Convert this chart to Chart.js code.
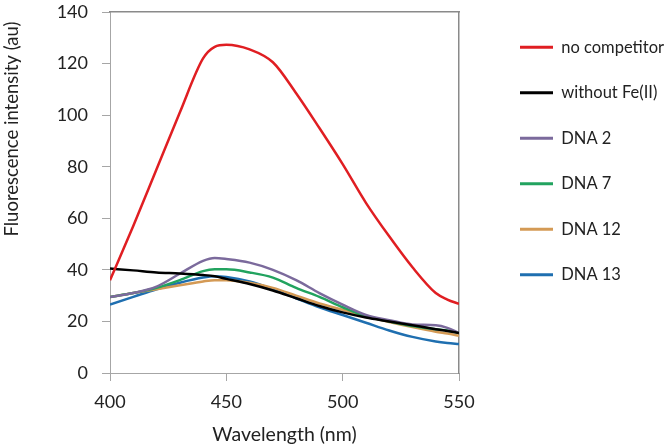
<!DOCTYPE html>
<html>
<head>
<meta charset="utf-8">
<script src="https://cdn.jsdelivr.net/npm/chart.js@4/dist/chart.umd.min.js"></script>
<style>
    html, body { margin: 0; padding: 0; background: #fff; }
    #wrap { width: 666px; height: 446px; }
</style>
</head>
<body>
<div id="wrap"><canvas id="spectra" width="666" height="446"></canvas></div>
<script>
// ==============================
//  DATA
// ==============================
const wavelengths = [400, 410, 420, 430, 440, 445, 450, 460, 470, 480, 490, 500, 510, 520, 530, 540, 545, 550];

const noCompetitor = [36, 57, 79, 101, 122, 126.5, 127.3, 125.5, 120.5, 108.5, 95, 81, 66, 53, 41, 31, 28.5, 26.8];
const withoutFe    = [40.5, 39.8, 39, 38.6, 38, 37.5, 36.5, 34.5, 32, 29, 26, 23.5, 21.5, 20, 18.5, 17, 16.3, 15.5];
const dna2         = [29.5, 31, 33.5, 38.5, 43.5, 44.6, 44.2, 42.8, 40, 36, 31, 26.5, 22.5, 20.5, 18.8, 18.5, 17.5, 15.5];
const dna7         = [29.5, 31, 33, 36, 39.5, 40.2, 40.2, 39, 37, 33, 29.5, 25.5, 22, 20, 18.2, 17, 16.5, 15.5];
const dna12        = [29.5, 31, 32.5, 34, 35.5, 36, 36, 35, 33, 30, 27, 24.5, 22, 19.8, 17.8, 16, 15.3, 14.5];
const dna13        = [26.5, 29.5, 32.5, 35, 37, 37.5, 37.2, 35.5, 32.5, 29, 25.5, 22.5, 19.5, 16.5, 14, 12.2, 11.6, 11.2];

const seriesNames  = ["no competitor", "without Fe(II)", "DNA 2", "DNA 7", "DNA 12", "DNA 13"];
const seriesValues = [noCompetitor, withoutFe, dna2, dna7, dna12, dna13];
const seriesColors = ["#e01e22", "#000000", "#7b6a9c", "#22a35f", "#d49a55", "#1f6fb0"];

const xTicks = { min: 400, max: 550, step: 50 };
const yTicks = { min: 0, max: 140, step: 20 };

const FONT = "Lato, 'Open Sans', 'DejaVu Sans', sans-serif";
const AXIS_GREY = "#a6a6a6";
const BOX_GREY = "#8a8a8a";

// ==============================
//  BUILD DATASETS
// ==============================
const datasets = seriesNames.map((name, i) => ({
    label: name,
    data: wavelengths.map((w, j) => ({ x: w, y: seriesValues[i][j] })),
    borderColor: seriesColors[i],
    backgroundColor: seriesColors[i],
    borderWidth: 2.5,
    pointRadius: 0,
    cubicInterpolationMode: "monotone",
    fill: false
}));

// legend gets a fixed width so the plot box lands where it should
const legendWidth = {
    id: "legendWidth",
    beforeInit(chart) {
        const fit = chart.legend.fit;
        chart.legend.fit = function () {
            fit.call(this);
            this.width = 175;
        };
    }
};

new Chart(document.getElementById("spectra"), {
    type: "line",
    data: { datasets: datasets },
    plugins: [legendWidth],
    options: {
        responsive: false,
        animation: false,
        layout: { padding: { top: 10, left: 0, right: 0, bottom: 0 } },
        plugins: {
            tooltip: { enabled: false },
            legend: {
                position: "right",
                align: "start",
                labels: {
                    boxWidth: 33,
                    boxHeight: 3,
                    padding: 29,
                    color: "#222",
                    font: { family: FONT, size: 16.5 },
                    generateLabels: chart =>
                        Chart.defaults.plugins.legend.labels.generateLabels(chart)
                            .map(item => ({ ...item, lineWidth: 0 }))
                }
            }
        },
        scales: {
            x: {
                type: "linear",
                position: "bottom",
                min: xTicks.min,
                max: xTicks.max,
                ticks: { stepSize: xTicks.step, color: "#222", padding: 10, font: { family: FONT, size: 18 } },
                grid: { display: true, drawOnChartArea: false, drawTicks: true, tickLength: 8, color: AXIS_GREY },
                border: { color: AXIS_GREY, width: 1 },
                title: { display: true, text: "Wavelength (nm)", color: "#222", padding: { top: 0, bottom: 0 }, font: { family: FONT, size: 19.5 } },
                afterFit: s => { s.height = 73; }
            },
            y: {
                type: "linear",
                position: "left",
                min: yTicks.min,
                max: yTicks.max,
                ticks: { stepSize: yTicks.step, color: "#222", padding: 14, font: { family: FONT, size: 18 } },
                grid: { display: true, drawOnChartArea: false, drawTicks: true, tickLength: 8, color: AXIS_GREY },
                border: { color: AXIS_GREY, width: 1 },
                // title sits near the top of the axis in the original
                title: { display: true, align: "end", text: "Fluorescence intensity (au)\u00a0\u00a0", color: "#222", padding: { top: 1, bottom: 0 }, font: { family: FONT, size: 18.5 } },
                afterFit: s => { s.width = 110; s.paddingTop = 0; s.paddingBottom = 0; }
            },
            x2: {
                type: "linear",
                axis: "x",
                position: "top",
                ticks: { display: false },
                grid: { display: false },
                border: { color: BOX_GREY, width: 1.5 },
                afterFit: s => { s.height = 2; }
            },
            y2: {
                type: "linear",
                axis: "y",
                position: "right",
                ticks: { display: false },
                grid: { display: false },
                border: { color: BOX_GREY, width: 1.5 },
                afterFit: s => { s.width = 32; s.paddingTop = 0; s.paddingBottom = 0; }
            }
        }
    }
});
</script>
</body>
</html>
